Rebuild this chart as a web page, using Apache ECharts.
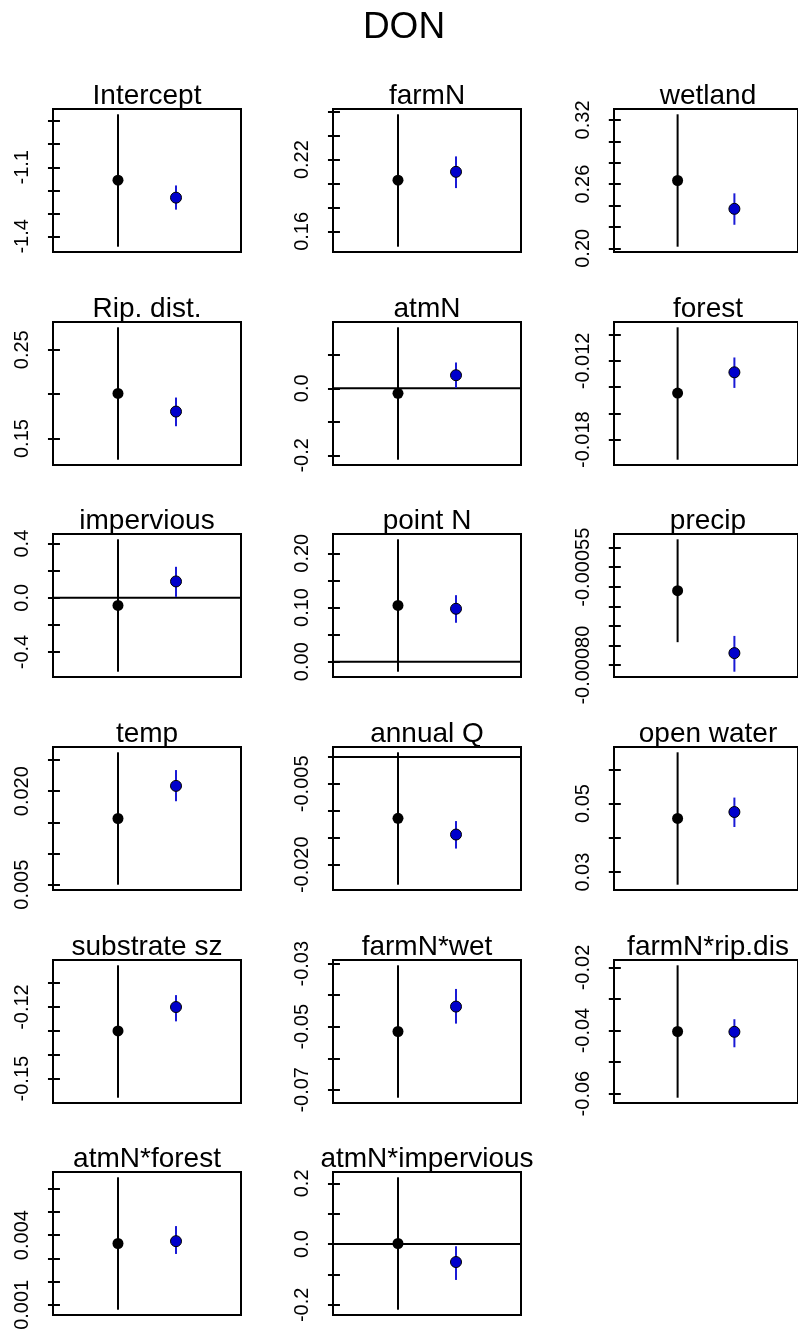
<!DOCTYPE html>
<html lang="en">
<head>
<meta charset="UTF-8">
<title>DON</title>
<script src="https://cdn.jsdelivr.net/npm/echarts@6/dist/echarts.min.js"></script>
<style>
  html, body { margin: 0; padding: 0; background: #ffffff; }
  #chart { width: 798px; height: 1333px; }
</style>
</head>
<body>
<div id="chart"></div>
<script>
// panel names, in reading order
var panelNames = ['Intercept', 'farmN', 'wetland', 'Rip. dist.', 'atmN', 'forest',
  'impervious', 'point N', 'precip', 'temp', 'annual Q', 'open water',
  'substrate sz', 'farmN*wet', 'farmN*rip.dis', 'atmN*forest', 'atmN*impervious'];

// black estimate and interval (x = 1)
var blackEst = [-1.156, 0.2028, 0.2634, 0.2008, -0.015, -0.01445, -0.056, 0.1037, -0.00061,
  0.01562, -0.0114, 0.04565, -0.130, -0.0515, -0.0403, 0.00364, 0.002];
var blackLo = [-1.445, 0.1472, 0.2015, 0.1262, -0.213, -0.01953, -0.545, -0.0185, -0.0007414,
  0.0050, -0.0237, 0.02632, -0.158, -0.0725, -0.0613, 0.00079, -0.216];
var blackHi = [-0.870, 0.2579, 0.3253, 0.2753, 0.182, -0.00944, 0.432, 0.2258, -0.0004787,
  0.02624, 0.00085, 0.06497, -0.1025, -0.0305, -0.0193, 0.00649, 0.220];

// blue estimate and interval (x = 2)
var blueEst = [-1.232, 0.2098, 0.2369, 0.1804, 0.039, -0.01287, 0.121, 0.0976, -0.0007693,
  0.02085, -0.0144, 0.04754, -0.120, -0.0436, -0.0404, 0.00374, -0.059];
var blueLo = [-1.284, 0.1962, 0.2220, 0.1639, 0.001, -0.01406, 0.007, 0.0718, -0.0008168,
  0.01839, -0.0170, 0.04316, -0.126, -0.049, -0.0453, 0.00319, -0.118];
var blueHi = [-1.179, 0.2227, 0.2514, 0.1962, 0.077, -0.01174, 0.229, 0.1227, -0.0007254,
  0.02339, -0.0119, 0.05175, -0.115, -0.038, -0.0364, 0.00439, -0.007];

// y ticks and the labels that are printed
var tickValues = [
  [-1.4, -1.3, -1.2, -1.1, -1.0, -0.9],
  [0.16, 0.18, 0.20, 0.22, 0.24, 0.26],
  [0.20, 0.22, 0.24, 0.26, 0.28, 0.30, 0.32],
  [0.15, 0.20, 0.25],
  [-0.2, -0.1, 0, 0.1, 0.2],
  [-0.018, -0.016, -0.014, -0.012, -0.010],
  [-0.4, -0.2, 0, 0.2, 0.4],
  [0, 0.05, 0.10, 0.15, 0.20],
  [-0.0008, -0.00075, -0.0007, -0.00065, -0.0006, -0.00055, -0.0005],
  [0.005, 0.010, 0.015, 0.020, 0.025],
  [-0.020, -0.015, -0.010, -0.005, 0],
  [0.03, 0.04, 0.05, 0.06],
  [-0.15, -0.14, -0.13, -0.12, -0.11, -0.10],
  [-0.07, -0.06, -0.05, -0.04, -0.03],
  [-0.06, -0.05, -0.04, -0.03, -0.02],
  [0.001, 0.002, 0.003, 0.004, 0.005, 0.006],
  [-0.2, -0.1, 0, 0.1, 0.2]
];
var tickLabels = [
  ['-1.4', '-1.1'],
  ['0.16', '0.22'],
  ['0.20', '0.26', '0.32'],
  ['0.15', '0.25'],
  ['-0.2', '0.0', '0.2'],
  ['-0.018', '-0.012'],
  ['-0.4', '0.0', '0.4'],
  ['0.00', '0.10', '0.20'],
  ['-0.00080', '-0.00055'],
  ['0.005', '0.020'],
  ['-0.020', '-0.005'],
  ['0.03', '0.05'],
  ['-0.15', '-0.12'],
  ['-0.07', '-0.05', '-0.03'],
  ['-0.06', '-0.04', '-0.02'],
  ['0.001', '0.004'],
  ['-0.2', '0.0', '0.2']
];
// panels with a reference line at zero
var zeroLine = [false, false, false, false, true, false, true, true, false,
  false, true, false, false, false, false, false, true];

var chart = echarts.init(document.getElementById('chart'), null, { renderer: 'canvas' });

var colLeft = [53, 333, 614];
var rowTop = [109, 322, 534, 747, 960, 1172];
var boxW = 188, boxH = 143;
var xMin = -0.12, xMax = 3.12;
var font = 'Liberation Sans, Arial, sans-serif';

var grids = [], xAxes = [], yAxes = [], series = [];
var titles = [{
  text: 'DON', left: 404, top: 9, textAlign: 'center', padding: 0,
  textStyle: { fontSize: 37, fontWeight: 'normal', color: '#000', fontFamily: font }
}];

panelNames.forEach(function (name, i) {
  var left = colLeft[i % 3], top = rowTop[Math.floor(i / 3)];
  // R style range: data range plus 4% each side
  var lo = Math.min(blackLo[i], blueLo[i]);
  var hi = Math.max(blackHi[i], blueHi[i]);
  var pad = (hi - lo) * 0.04;
  var labels = tickLabels[i];

  grids.push({
    left: left, top: top, width: boxW, height: boxH,
    show: true, borderColor: '#000', borderWidth: 2, backgroundColor: 'transparent'
  });
  titles.push({
    text: name, left: left + boxW / 2, top: top - 27, textAlign: 'center', padding: 0,
    textStyle: { fontSize: 28, fontWeight: 'normal', color: '#000', fontFamily: font }
  });
  xAxes.push({
    gridIndex: i, type: 'value', min: xMin, max: xMax, show: false
  });
  yAxes.push({
    gridIndex: i, type: 'value', min: lo - pad, max: hi + pad,
    axisLine: { show: false },
    splitLine: { show: false },
    axisTick: {
      show: true, inside: false, length: 12,
      lineStyle: { color: '#000', width: 2 },
      customValues: tickValues[i]
    },
    axisLabel: {
      show: true, rotate: 90, margin: 21, fontSize: 20, color: '#000', fontFamily: font,
      customValues: labels.map(Number),
      formatter: function (v) {
        for (var k = 0; k < labels.length; k++) {
          if (Math.abs(Number(labels[k]) - v) < 1e-9) return labels[k];
        }
        return '';
      }
    }
  });

  if (zeroLine[i]) {
    series.push({
      type: 'line', xAxisIndex: i, yAxisIndex: i, data: [[xMin, 0], [xMax, 0]],
      symbol: 'none', silent: true, z: 2,
      lineStyle: { color: '#000', width: 2 }
    });
  }
  series.push({
    type: 'line', xAxisIndex: i, yAxisIndex: i, data: [[1, blackLo[i]], [1, blackHi[i]]],
    symbol: 'none', silent: true, z: 3,
    lineStyle: { color: '#000', width: 2 }
  });
  series.push({
    type: 'line', xAxisIndex: i, yAxisIndex: i, data: [[2, blueLo[i]], [2, blueHi[i]]],
    symbol: 'none', silent: true, z: 3,
    lineStyle: { color: '#1a1ad6', width: 2 }
  });
  series.push({
    type: 'scatter', xAxisIndex: i, yAxisIndex: i, data: [[1, blackEst[i]]],
    symbolSize: 11, silent: true, z: 4,
    itemStyle: { color: '#000', opacity: 1 }
  });
  series.push({
    type: 'scatter', xAxisIndex: i, yAxisIndex: i, data: [[2, blueEst[i]]],
    symbolSize: 11, silent: true, z: 4,
    itemStyle: { color: '#0000cc', borderColor: '#000', borderWidth: 1, opacity: 1 }
  });
});

chart.setOption({
  animation: false,
  backgroundColor: '#ffffff',
  title: titles,
  grid: grids,
  xAxis: xAxes,
  yAxis: yAxes,
  series: series
});
</script>
</body>
</html>
